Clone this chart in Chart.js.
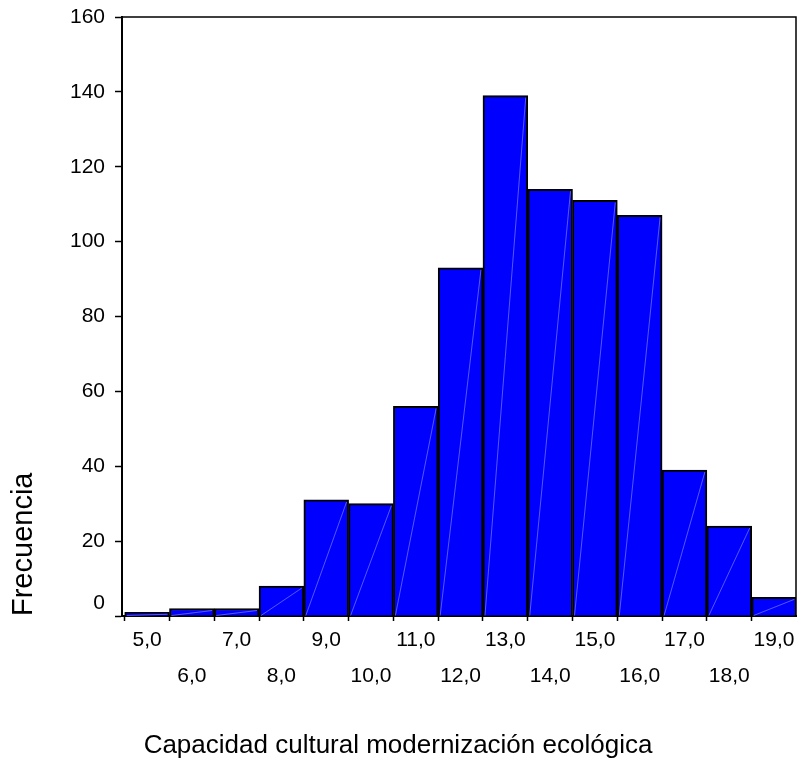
<!DOCTYPE html>
<html>
<head>
<meta charset="utf-8">
<script src="https://cdn.jsdelivr.net/npm/chart.js@4/dist/chart.umd.min.js"></script>
<style>
html,body{margin:0;padding:0;background:#fff;}
#wrap{width:798px;height:764px;}
</style>
</head>
<body>
<div id="wrap"><canvas id="c" width="798" height="764"></canvas></div>
<script>
const bins = [5, 6, 7, 8, 9, 10, 11, 12, 13, 14, 15, 16, 17, 18, 19];
const counts = [1, 2, 2, 8, 31, 30, 56, 93, 139, 114, 111, 107, 39, 24, 5];
const xTickLabels = ["5,0","6,0","7,0","8,0","9,0","10,0","11,0","12,0","13,0","14,0","15,0","16,0","17,0","18,0","19,0"];
const xTitle = "Capacidad cultural modernización ecológica";
const yTitle = "Frecuencia";

const FONT = "'Liberation Sans', Arial, sans-serif";
const titleSize = 26, titlePadBottom = 3;
const titleBoxH = titleSize * 1.2 + titlePadBottom;

const framePlugin = {
  id: 'frame',
  afterDraw(chart) {
    const {ctx, chartArea: a} = chart;
    ctx.save();
    ctx.strokeStyle = '#000';
    ctx.lineWidth = 1.5;
    ctx.beginPath();
    ctx.moveTo(a.left, a.top);
    ctx.lineTo(a.right, a.top);
    ctx.lineTo(a.right, a.bottom);
    ctx.stroke();
    ctx.restore();
  }
};

const diagPlugin = {
  id: 'diag',
  afterDatasetsDraw(chart) {
    const {ctx, chartArea: a} = chart;
    const meta = chart.getDatasetMeta(0);
    ctx.save();
    ctx.beginPath();
    ctx.rect(a.left, a.top, a.right - a.left, a.bottom - a.top);
    ctx.clip();
    ctx.strokeStyle = 'rgba(200,200,255,0.55)';
    ctx.lineWidth = 0.8;
    meta.data.forEach(bar => {
      const p = bar.getProps(['x','y','base','width'], true);
      ctx.beginPath();
      ctx.moveTo(p.x - p.width / 2 + 2, p.base);
      ctx.lineTo(p.x + p.width / 2 - 2, p.y + 2);
      ctx.stroke();
    });
    ctx.restore();
  }
};

new Chart(document.getElementById('c'), {
  type: 'bar',
  data: {
    datasets: [{
      data: bins.map((b, i) => ({x: b, y: counts[i]})),
      backgroundColor: '#0000FF',
      borderColor: '#000000',
      borderWidth: 2,
      barPercentage: 1,
      categoryPercentage: 1
    }]
  },
  options: {
    responsive: false,
    devicePixelRatio: 1,
    animation: false,
    layout: {padding: {top: 17, right: 2, left: 0, bottom: 0}},
    plugins: {
      legend: {display: false},
      tooltip: {enabled: false},
      title: {
        display: true,
        text: xTitle,
        position: 'bottom',
        color: '#000',
        font: {family: FONT, size: titleSize, weight: 'normal'},
        padding: {top: 0, bottom: titlePadBottom}
      }
    },
    scales: {
      x: {
        type: 'linear',
        min: 4.44,
        max: 19.49,
        offset: false,
        afterFit(s) { s.height = 764 - 616 - titleBoxH; s.paddingLeft = 0; s.paddingRight = 0; },
        border: {display: true, color: '#000', width: 2},
        grid: {drawOnChartArea: false, drawTicks: true, tickLength: 5, color: '#000', tickWidth: 1.5},
        ticks: {
          stepSize: 1,
          includeBounds: false,
          autoSkip: false,
          maxRotation: 0,
          padding: 1,
          color: '#000',
          font: {family: FONT, size: 21, lineHeight: 1.714},
          callback(v) {
            const i = bins.indexOf(v);
            if (i < 0) return '';
            return i % 2 === 0 ? xTickLabels[i] : ['', xTickLabels[i]];
          }
        }
      },
      y: {
        min: 0,
        max: 160,
        afterFit(s) { s.width = 122; s.paddingTop = 0; s.paddingBottom = 0; },
        border: {display: true, color: '#000', width: 2},
        grid: {drawOnChartArea: false, drawTicks: true, tickLength: 7, color: '#000', tickWidth: 1.5},
        title: {
          display: true,
          text: yTitle,
          align: 'start',
          color: '#000',
          font: {family: FONT, size: 29, weight: 'normal'},
          padding: {top: 7, bottom: 0}
        },
        ticks: {
          stepSize: 20,
          padding: 10,
          color: '#000',
          font: {family: FONT, size: 21, lineHeight: 1.2},
          callback(v) { return v === 0 ? ['0', ''] : String(v); }
        }
      }
    }
  },
  plugins: [framePlugin, diagPlugin]
});
</script>
</body>
</html>
